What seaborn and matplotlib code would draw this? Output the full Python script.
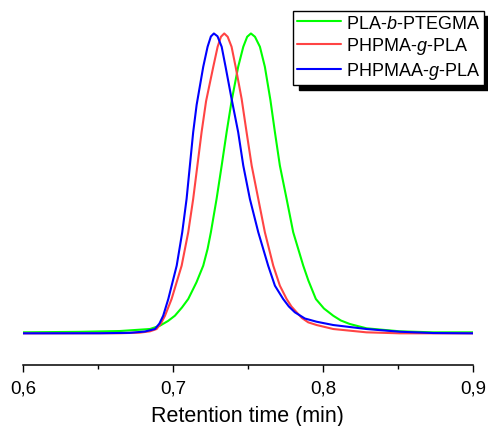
import numpy as np
import pandas as pd
import matplotlib
matplotlib.use('Agg')
import matplotlib.pyplot as plt
from matplotlib.patches import Shadow
import seaborn as sns

sns.set_theme(style='ticks')
plt.rcParams['font.family'] = ['Liberation Sans', 'DejaVu Sans']
plt.rcParams['mathtext.fontset'] = 'custom'
plt.rcParams['mathtext.rm'] = 'Liberation Sans'
plt.rcParams['mathtext.it'] = 'Liberation Sans:italic'
plt.rcParams['text.color'] = 'black'
plt.rcParams['xtick.color'] = 'black'
plt.rcParams['xtick.labelcolor'] = 'black'
plt.rcParams['axes.labelcolor'] = 'black'

# retention time (min) / normalised detector signal
t_ptegma = [0.6000, 0.6380, 0.6647, 0.6847, 0.6913, 0.6967, 0.7013, 0.7060, 0.7102, 0.7157,
            0.7202, 0.7231, 0.7253, 0.7291, 0.7325, 0.7358, 0.7391, 0.7435, 0.7469, 0.7495,
            0.7520, 0.7547, 0.7580, 0.7613, 0.7650, 0.7680, 0.7713, 0.7758, 0.7802, 0.7869,
            0.7903, 0.7953, 0.8007, 0.8069, 0.8120, 0.8180, 0.8291, 0.8513, 0.8735, 0.9000]
s_ptegma = [0.0033, 0.0050, 0.0077, 0.0144, 0.0254, 0.0411, 0.0587, 0.0861, 0.1145, 0.1702,
            0.2256, 0.2814, 0.3371, 0.4483, 0.5594, 0.6709, 0.7744, 0.8889, 0.9556, 0.9890,
            1.0000, 0.9890, 0.9556, 0.8889, 0.7777, 0.6709, 0.5594, 0.4483, 0.3371, 0.2256,
            0.1762, 0.1145, 0.0828, 0.0587, 0.0427, 0.0310, 0.0167, 0.0067, 0.0033, 0.0033]

t_phpma = [0.6000, 0.6647, 0.6780, 0.6847, 0.6891, 0.6920, 0.6947, 0.6991, 0.7058, 0.7102,
           0.7135, 0.7191, 0.7221, 0.7269, 0.7298, 0.7320, 0.7342, 0.7365, 0.7391, 0.7418,
           0.7458, 0.7491, 0.7525, 0.7569, 0.7613, 0.7669, 0.7713, 0.7758, 0.7790, 0.7825,
           0.7860, 0.7902, 0.7958, 0.8069, 0.8291, 0.8513, 0.9000]
s_phpma = [0.0000, 0.0003, 0.0023, 0.0067, 0.0144, 0.0327, 0.0587, 0.1145, 0.2256, 0.3371,
           0.4483, 0.6709, 0.7744, 0.8889, 0.9556, 0.9890, 1.0000, 0.9890, 0.9556, 0.8889,
           0.7821, 0.6709, 0.5594, 0.4483, 0.3371, 0.2256, 0.1589, 0.1145, 0.0895, 0.0701,
           0.0511, 0.0367, 0.0277, 0.0144, 0.0033, 0.0000, 0.0000]

t_phpmaa = [0.6000, 0.6513, 0.6713, 0.6813, 0.6880, 0.6910, 0.6935, 0.6969, 0.7025, 0.7062,
            0.7091, 0.7135, 0.7158, 0.7202, 0.7231, 0.7253, 0.7273, 0.7297, 0.7325, 0.7351,
            0.7391, 0.7435, 0.7469, 0.7513, 0.7569, 0.7635, 0.7680, 0.7735, 0.7773, 0.7813,
            0.7880, 0.7958, 0.8069, 0.8291, 0.8513, 0.8735, 0.9000]
s_phpmaa = [0.0000, 0.0003, 0.0017, 0.0060, 0.0144, 0.0327, 0.0587, 0.1145, 0.2256, 0.3371,
            0.4483, 0.6709, 0.7620, 0.8889, 0.9556, 0.9900, 1.0000, 0.9907, 0.9556, 0.8889,
            0.7821, 0.6709, 0.5594, 0.4483, 0.3371, 0.2256, 0.1589, 0.1145, 0.0895, 0.0701,
            0.0494, 0.0387, 0.0277, 0.0144, 0.0053, 0.0010, 0.0000]

names = ['PLA-$\\mathit{b}$-PTEGMA', 'PHPMA-$\\mathit{g}$-PLA', 'PHPMAA-$\\mathit{g}$-PLA']
colores = ['#00ff00', '#ff4444', '#0000ff']
xticks = [0.6, 0.7, 0.8, 0.9]
xtick_labels = ['0,6', '0,7', '0,8', '0,9']

df = pd.concat([
    pd.DataFrame({'t': t_ptegma, 's': s_ptegma, 'muestra': names[0]}),
    pd.DataFrame({'t': t_phpma, 's': s_phpma, 'muestra': names[1]}),
    pd.DataFrame({'t': t_phpmaa, 's': s_phpmaa, 'muestra': names[2]}),
], ignore_index=True)

fig = plt.figure(figsize=(4.89, 4.27), dpi=100)
ax = fig.add_axes([0.047, 0.144, 0.92, 0.8455])
sns.lineplot(data=df, x='t', y='s', hue='muestra', palette=colores, hue_order=names,
             sort=False, estimator=None, linewidth=1.5, ax=ax)
for ln in ax.get_lines():
    ln.set_solid_joinstyle('round')

ax.set_xlim(0.6, 0.9)
ax.set_ylim(-0.104, 1.1)
ax.set_xticks(xticks)
ax.set_xticklabels(xtick_labels, fontsize=13.5)
ax.set_xticks([0.65, 0.75, 0.85], minor=True)
ax.tick_params(axis='x', which='major', length=5, width=1, direction='out', color='black', pad=6)
ax.tick_params(axis='x', which='minor', length=3, width=1, direction='out', color='black')
ax.set_yticks([])
ax.set_xlabel('Retention time (min)', fontsize=15.5, labelpad=6)
ax.set_ylabel('')
sns.despine(ax=ax, left=True)
ax.spines['bottom'].set_color('black')
ax.spines['bottom'].set_linewidth(1.1)

leg = ax.legend(loc='upper right', bbox_to_anchor=(484 / 489, 1 - 11.7 / 427),
                bbox_transform=fig.transFigure, borderaxespad=0, fontsize=13,
                frameon=True, fancybox=False, edgecolor='black', framealpha=1,
                handlelength=2.4, handletextpad=0.3, labelspacing=0.2, borderpad=0.22)
leg.get_frame().set_linewidth(1)

# sombra negra desplazada
fig.canvas.draw()
sombra = Shadow(leg.legendPatch, 4, -4, color='black', alpha=1)
ax.add_artist(sombra)
sombra.set_clip_on(False)

fig.savefig('out.png', dpi=100)
